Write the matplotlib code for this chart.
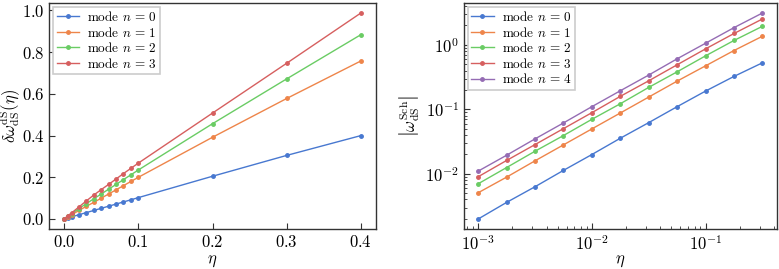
import numpy as np
import matplotlib
matplotlib.use("Agg")
import matplotlib.pyplot as plt

plt.rcParams['font.family'] = 'serif'
plt.rcParams['font.serif'] = ['cmr10']
plt.rcParams['mathtext.fontset'] = 'cm'
plt.rcParams['axes.formatter.use_mathtext'] = True
plt.rcParams['axes.unicode_minus'] = False

colors = ['#4878d0', '#ee854a', '#6acc64', '#d65f5f', '#956cb4']

# left panel: delta omega vs eta
eta_lin = [0, 0.005, 0.01, 0.02, 0.03, 0.04, 0.05, 0.06, 0.07, 0.08, 0.09, 0.1, 0.2, 0.3, 0.4]
dw_n0 = [0, 0.005, 0.0102, 0.0205, 0.0308, 0.041, 0.0512, 0.0614, 0.0716, 0.0818, 0.092, 0.1025, 0.205, 0.305, 0.400]
dw_n1 = [0, 0.010, 0.020, 0.041, 0.061, 0.080, 0.100, 0.120, 0.140, 0.160, 0.180, 0.200, 0.392, 0.578, 0.758]
dw_n2 = [0, 0.012, 0.025, 0.050, 0.074, 0.097, 0.120, 0.143, 0.166, 0.189, 0.212, 0.235, 0.457, 0.672, 0.884]
dw_n3 = [0, 0.016, 0.029, 0.058, 0.087, 0.115, 0.141, 0.166, 0.192, 0.218, 0.243, 0.268, 0.508, 0.747, 0.988]
left_series = [dw_n0, dw_n1, dw_n2, dw_n3]

# right panel: |omega Sch| vs eta (log-log)
eta_log = [1.0e-3, 1.778e-3, 3.162e-3, 5.623e-3, 1.0e-2, 1.778e-2, 3.162e-2, 5.623e-2, 1.0e-1, 1.778e-1, 3.162e-1]
w_n0 = [0.00199, 0.0036, 0.0063, 0.0113, 0.0199, 0.0356, 0.0622, 0.110, 0.192, 0.324, 0.527]
w_n1 = [0.00508, 0.00888, 0.0159, 0.0281, 0.0497, 0.0877, 0.155, 0.274, 0.473, 0.817, 1.36]
w_n2 = [0.0070, 0.0125, 0.0224, 0.0392, 0.070, 0.122, 0.219, 0.382, 0.676, 1.17, 1.94]
w_n3 = [0.0090, 0.0161, 0.0284, 0.0502, 0.0888, 0.159, 0.277, 0.491, 0.867, 1.50, 2.52]
w_n4 = [0.0110, 0.0194, 0.0348, 0.0615, 0.110, 0.194, 0.340, 0.608, 1.06, 1.85, 3.12]
right_series = [w_n0, w_n1, w_n2, w_n3, w_n4]

fig = plt.figure(figsize=(7.79, 2.69), dpi=100)
ax1 = fig.add_axes([0.0633, 0.1476, 0.419, 0.8424])
ax2 = fig.add_axes([0.5956, 0.1476, 0.4014, 0.8424])

for i, ys in enumerate(left_series):
    ax1.plot(eta_lin, ys, '-o', color=colors[i], lw=1, ms=2.5, label=r'mode $n\,=\,%d$' % i)
for i, ys in enumerate(right_series):
    ax2.plot(eta_log, ys, '-o', color=colors[i], lw=1, ms=2.5, label=r'mode $n\,=\,%d$' % i)

ax2.set_xscale('log')
ax2.set_yscale('log')

ax1.set_xlabel(r'$\eta$', fontsize=12)
ax1.set_ylabel(r'$\delta\omega^{\rm dS}_{\rm dS}(\eta)$', fontsize=12)
ax2.set_xlabel(r'$\eta$', fontsize=12)
ax2.set_ylabel(r'$\left|\omega^{\rm Sch}_{\rm dS}\right|$', fontsize=12)
ax1.set_xticks([0.0, 0.1, 0.2, 0.3, 0.4])
ax1.set_yticks([0.0, 0.2, 0.4, 0.6, 0.8, 1.0])
ax1.yaxis.set_label_coords(-0.085, 0.5)
ax2.yaxis.set_label_coords(-0.134, 0.5)
ax1.xaxis.set_label_coords(0.5, -0.105)
ax2.xaxis.set_label_coords(0.5, -0.105)

for ax in (ax1, ax2):
    ax.tick_params(which='both', direction='in', labelsize=12, color='#333333')
    ax.tick_params(which='major', length=4.5)
    ax.tick_params(which='minor', length=2.5)
    for s in ax.spines.values():
        s.set_color('#333333')
        s.set_linewidth(1.0)
    leg = ax.legend(loc='upper left', fontsize=9.5, fancybox=False, framealpha=1,
                    edgecolor='#cccccc', borderpad=0.25, labelspacing=0.12,
                    handlelength=1.7, handletextpad=0.6, borderaxespad=0.3)
    leg.get_frame().set_linewidth(1.2)

fig.savefig('out.png', dpi=100)
